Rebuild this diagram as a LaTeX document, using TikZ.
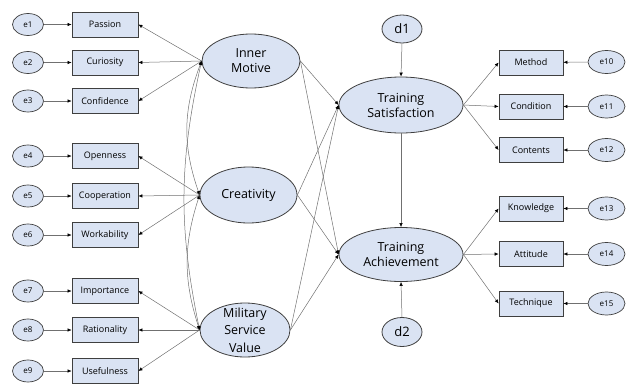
\documentclass[tikz,border=0pt]{standalone}
\usepackage{fontspec}
\setmainfont{Open Sans}
\usetikzlibrary{arrows.meta,shapes.geometric}
\definecolor{boxfill}{HTML}{DAE3F3}
\definecolor{rim}{HTML}{3F3F3F}
\definecolor{wire}{HTML}{707070}
\tikzset{
	obs/.style={draw=rim, fill=boxfill, line width=0.8pt, minimum width=66pt, minimum height=25pt, inner sep=0pt, font=\fontsize{9}{10}\selectfont},
	err/.style={draw=rim, fill=boxfill, ellipse, line width=0.7pt, minimum width=31pt, minimum height=22pt, inner sep=0pt, font=\fontsize{8}{9}\selectfont},
	lat/.style={draw=rim, fill=boxfill, ellipse, line width=0.8pt, inner sep=0pt, align=center, font=\fontsize{12.5}{15}\selectfont},
	arr/.style={wire, line width=0.5pt, -{Latex[length=4pt,width=3.5pt,black]}},
	darr/.style={wire, line width=0.5pt, {Latex[length=4pt,width=3.5pt,black]}-{Latex[length=4pt,width=3.5pt,black]}}
}

\begin{document}
\begin{tikzpicture}[x=1pt,y=-1pt]
			%%%%% START %%%%%
			\useasboundingbox (0,0) rectangle (629,383);
			
			% latent variables
			\node[lat, minimum width=98pt, minimum height=54pt] (im) at (251,61) {Inner\\Motive};
			\node[lat, minimum width=97pt, minimum height=56pt] (cr) at (248.5,195) {Creativity};
			\node[lat, minimum width=90pt, minimum height=54pt] (msv) at (245,330) {};
			\node[align=center, font=\fontsize{12.5}{17.5}\selectfont] (msvtext) at (msv) {Military\\Service\\Value};
			\node[lat, minimum width=124pt, minimum height=56pt] (ts) at (401,105) {Training\\Satisfaction};
			\node[lat, minimum width=124pt, minimum height=54pt] (ta) at (401,254.5) {Training\\Achievement};
			\node[lat, minimum width=40pt, minimum height=28pt, font=\fontsize{13}{15}\selectfont] (d1) at (402,29) {d1};
			\node[lat, minimum width=40pt, minimum height=29pt, font=\fontsize{13}{15}\selectfont] (d2) at (402,332) {d2};
			
			% left indicators
			\node[obs] (passion) at (105,24.5) {Passion};
			\node[obs] (curiosity) at (105,62.5) {Curiosity};
			\node[obs] (confidence) at (105,101) {Confidence};
			\node[obs] (openness) at (105,156) {Openness};
			\node[obs] (cooperation) at (105,196) {Cooperation};
			\node[obs] (workability) at (105,235) {Workability};
			\node[obs] (importance) at (105,291) {Importance};
			\node[obs] (rationality) at (105,330) {Rationality};
			\node[obs] (usefulness) at (105,371) {Usefulness};
			
			\node[err] (e1) at (28,24.5) {e1};
			\node[err] (e2) at (28,62.5) {e2};
			\node[err] (e3) at (28,101) {e3};
			\node[err] (e4) at (28,156) {e4};
			\node[err] (e5) at (28,196) {e5};
			\node[err] (e6) at (28,235) {e6};
			\node[err] (e7) at (28,291) {e7};
			\node[err] (e8) at (28,330) {e8};
			\node[err] (e9) at (28,371) {e9};
			
			% right indicators
			\node[obs, minimum width=64pt] (method) at (531,62.5) {Method};
			\node[obs, minimum width=64pt] (condition) at (531,106.5) {Condition};
			\node[obs, minimum width=64pt] (contents) at (531,150) {Contents};
			\node[obs, minimum width=64pt] (knowledge) at (531,208.5) {Knowledge};
			\node[obs, minimum width=64pt] (attitude) at (531,254) {Attitude};
			\node[obs, minimum width=64pt] (technique) at (531,303.5) {Technique};
			
			\node[err, minimum width=37pt, minimum height=23pt] (e10) at (606.5,62) {e10};
			\node[err, minimum width=37pt, minimum height=23pt] (e11) at (606.5,106.5) {e11};
			\node[err, minimum width=37pt, minimum height=23pt] (e12) at (606.5,150) {e12};
			\node[err, minimum width=37pt, minimum height=23pt] (e13) at (606.5,208.5) {e13};
			\node[err, minimum width=37pt, minimum height=23pt] (e14) at (606.5,254) {e14};
			\node[err, minimum width=37pt, minimum height=23pt] (e15) at (606.5,303.5) {e15};
			
			% errors to indicators
			\foreach \e/\b in {e1/passion, e2/curiosity, e3/confidence, e4/openness, e5/cooperation, e6/workability, e7/importance, e8/rationality, e9/usefulness}
				\draw[arr] (\e) -- (\b);
			\foreach \e/\b in {e10/method, e11/condition, e12/contents, e13/knowledge, e14/attitude, e15/technique}
				\draw[arr] (\e) -- (\b);
			
			% loadings
			\foreach \b in {passion, curiosity, confidence}
				\draw[arr] (im.west) -- (\b.east);
			\foreach \b in {openness, cooperation, workability}
				\draw[arr] (cr.west) -- (\b.east);
			\foreach \b in {importance, rationality, usefulness}
				\draw[arr] (msv.west) -- (\b.east);
			\foreach \b in {method, condition, contents}
				\draw[arr] (ts.east) -- (\b.west);
			\foreach \b in {knowledge, attitude, technique}
				\draw[arr] (ta.east) -- (\b.west);
			
			% covariances
			\draw[darr] (im.west) to[bend right=20] (cr.west);
			\draw[darr] (im.west) to[bend right=12] (msv.west);
			\draw[darr] (cr.west) to[bend right=18] (msv.west);
			
			% paths
			\foreach \x in {im, cr, msv} {
				\draw[arr] (\x.east) -- (ts.west);
				\draw[arr] (\x.east) -- (ta.west);
			}
			\draw[arr] (ts.south) -- (ta.north);
			\draw[arr] (d1.south) -- (ts.north);
			\draw[arr] (d2.north) -- (ta.south);
			
			%%%%% END %%%%%
		\end{tikzpicture}
\end{document}
